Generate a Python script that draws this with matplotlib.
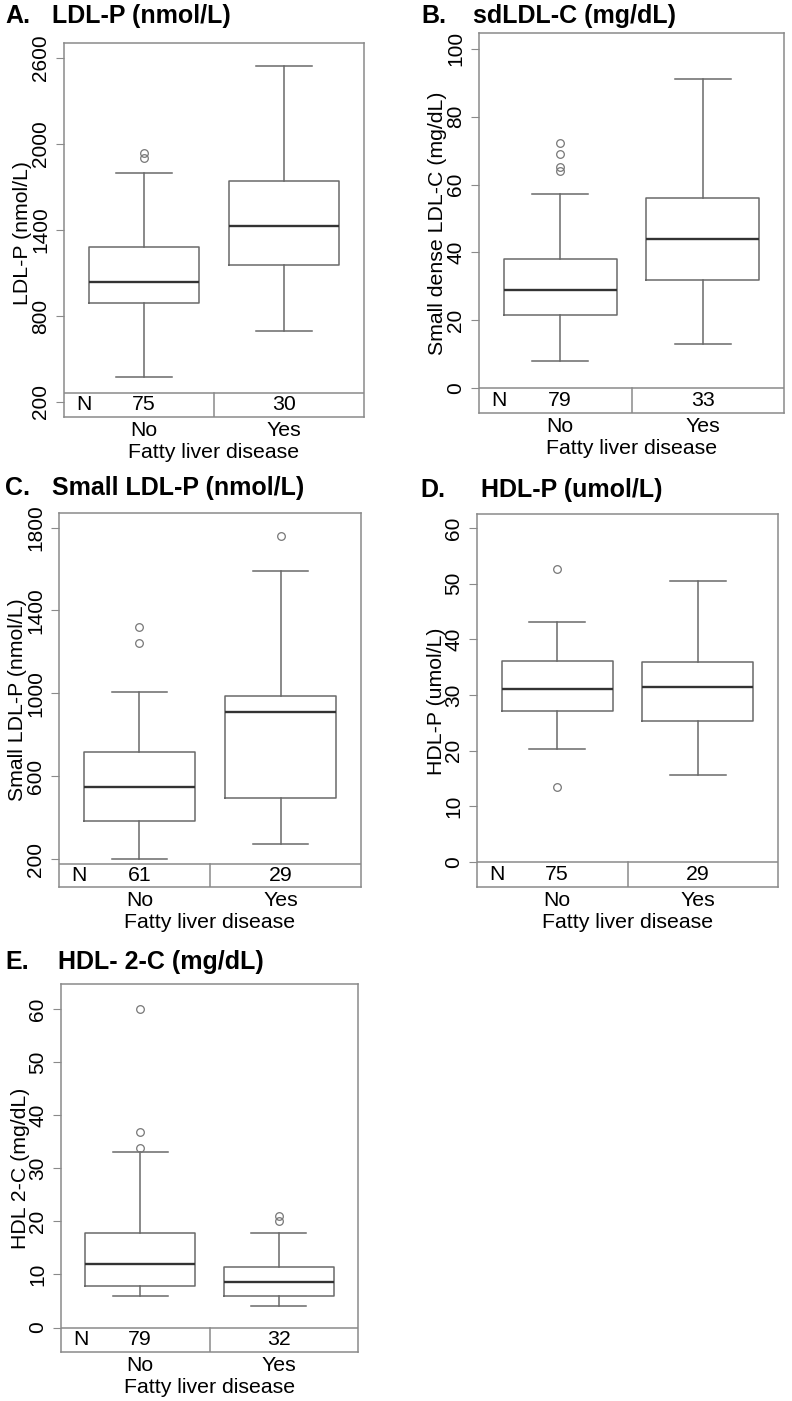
import matplotlib.pyplot as plt
import numpy as np

plt.rcParams['font.family'] = ['Liberation Sans', 'DejaVu Sans']

groups = ['No', 'Yes']

# A. LDL-P (nmol/L)
ldlp_lo = [374, 695]
ldlp_q1 = [893, 1158]
ldlp_med = [1039, 1426]
ldlp_q3 = [1283, 1740]
ldlp_hi = [1798, 2546]
ldlp_out = [[1902, 1937], []]
ldlp_n = [75, 30]

# B. sdLDL-C (mg/dL)
sdldl_lo = [8.0, 13.0]
sdldl_q1 = [21.5, 31.9]
sdldl_med = [28.9, 44.0]
sdldl_q3 = [38.0, 56.0]
sdldl_hi = [57.1, 91.0]
sdldl_out = [[64.1, 65.3, 68.9, 72.2], []]
sdldl_n = [79, 33]

# C. Small LDL-P (nmol/L)
sldlp_lo = [200, 275]
sldlp_q1 = [386, 494]
sldlp_med = [550, 912]
sldlp_q3 = [719, 988]
sldlp_hi = [1006, 1591]
sldlp_out = [[1243, 1322], [1761]]
sldlp_n = [61, 29]

# D. HDL-P (umol/L)
hdlp_lo = [20.2, 15.6]
hdlp_q1 = [27.2, 25.4]
hdlp_med = [31.1, 31.5]
hdlp_q3 = [36.1, 35.9]
hdlp_hi = [43.1, 50.5]
hdlp_out = [[13.4, 52.7], []]
hdlp_n = [75, 29]

# E. HDL-2-C (mg/dL)
hdl2_lo = [6.0, 4.0]
hdl2_q1 = [7.9, 6.0]
hdl2_med = [12.0, 8.5]
hdl2_q3 = [17.9, 11.5]
hdl2_hi = [33.0, 17.9]
hdl2_out = [[33.9, 36.9, 60.0], [20.0, 21.0]]
hdl2_n = [79, 32]

W, H = 792, 1401
frame_c = '#8a8a8a'
line_c = '#6a6a6a'
fs = 15.3

fig = plt.figure(figsize=(W / 100, H / 100), dpi=100)


def panel(box, ylim, strip, yticks, letter, title, tpos, ylab, ylab_pos,
          lo, q1, med, q3, hi, out, n):
    l, r, t, b = box
    ax = fig.add_axes([l / W, 1 - b / H, (r - l) / W, (b - t) / H])
    stats = [dict(whislo=lo[i], q1=q1[i], med=med[i], q3=q3[i],
                  whishi=hi[i], fliers=out[i]) for i in range(2)]
    ax.bxp(stats, positions=[1, 2], widths=0.79, capwidths=0.395,
           boxprops=dict(color=line_c, lw=1.1),
           whiskerprops=dict(color=line_c, lw=1.1),
           capprops=dict(color=line_c, lw=1.1),
           medianprops=dict(color='#333333', lw=1.7),
           flierprops=dict(marker='o', mfc='none', mec='#777777', ms=5.5, mew=0.9))
    ax.set_xlim(0.43, 2.57)
    ax.set_ylim(*ylim)
    # N strip under the boxes
    ax.axhline(strip, color=frame_c, lw=1.1)
    ax.plot([1.5, 1.5], [ylim[0], strip], color=frame_c, lw=1.1)
    ymid = (ylim[0] + strip) / 2
    ax.text(0.04, ymid, 'N', transform=ax.get_yaxis_transform(),
            fontsize=fs, va='center', ha='left')
    for i in range(2):
        ax.text(i + 1, ymid, str(n[i]), fontsize=fs, va='center', ha='center')
    for s in ax.spines.values():
        s.set_color(frame_c)
        s.set_linewidth(1.1)
    ax.set_xticks([1, 2])
    ax.set_xticklabels(groups, fontsize=fs)
    ax.tick_params(axis='x', length=0, pad=3)
    ax.set_xlabel('Fatty liver disease', fontsize=fs, labelpad=2)
    ax.set_yticks(yticks)
    ax.tick_params(axis='y', length=6, color=frame_c, labelsize=15, pad=4)
    for lab in ax.get_yticklabels():
        lab.set_rotation(90)
        lab.set_va('center')
    fig.text(ylab_pos[0] / W, 1 - ylab_pos[1] / H, ylab, rotation=90,
             fontsize=fs, ha='center', va='center')
    fig.text(tpos[0] / W, 1 - tpos[2] / H, letter, fontsize=18,
             fontweight='bold', va='center')
    fig.text(tpos[1] / W, 1 - tpos[2] / H, title, fontsize=18,
             fontweight='bold', va='center')
    return ax


panel((64, 364, 43, 417), (95, 2705), 263, np.arange(200, 2601, 600),
      'A.', 'LDL-P (nmol/L)', (5, 52, 16), 'LDL-P (nmol/L)', (23, 233),
      ldlp_lo, ldlp_q1, ldlp_med, ldlp_q3, ldlp_hi, ldlp_out, ldlp_n)
panel((479, 784, 33, 413), (-7.4, 104.7), 0, np.arange(0, 101, 20),
      'B.', 'sdLDL-C (mg/dL)', (421, 473, 16), 'Small dense LDL-C (mg/dL)', (438, 223),
      sdldl_lo, sdldl_q1, sdldl_med, sdldl_q3, sdldl_hi, sdldl_out, sdldl_n)
panel((59, 361, 513, 887), (66, 1870), 177, np.arange(200, 1801, 400),
      'C.', 'Small LDL-P (nmol/L)', (5, 52, 488), 'Small LDL-P (nmol/L)', (18, 700),
      sldlp_lo, sldlp_q1, sldlp_med, sldlp_q3, sldlp_hi, sldlp_out, sldlp_n)
panel((477, 778, 514, 887), (-4.5, 62.5), 0, np.arange(0, 61, 10),
      'D.', 'HDL-P (umol/L)', (420, 481, 490), 'HDL-P (umol/L)', (436, 701),
      hdlp_lo, hdlp_q1, hdlp_med, hdlp_q3, hdlp_hi, hdlp_out, hdlp_n)
panel((61, 358, 984, 1352), (-4.6, 64.7), 0, np.arange(0, 61, 10),
      'E.', 'HDL- 2-C (mg/dL)', (5, 58, 962), 'HDL 2-C (mg/dL)', (21, 1168),
      hdl2_lo, hdl2_q1, hdl2_med, hdl2_q3, hdl2_hi, hdl2_out, hdl2_n)

fig.savefig('out.png', dpi=100, facecolor='white')
